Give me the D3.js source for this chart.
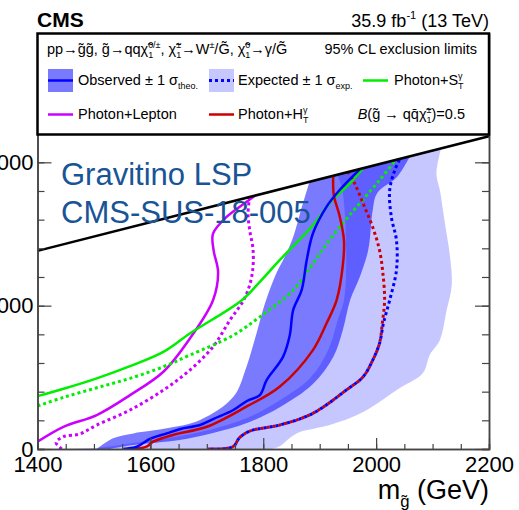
<!DOCTYPE html>
<html>
<head>
<meta charset="utf-8">
<script src="https://cdn.jsdelivr.net/npm/d3@7"></script>
<style>
body { margin: 0; background: #fff; }
svg { display: block; font-family: "Liberation Sans", Arial, Helvetica, sans-serif; }
svg text { white-space: pre; }
</style>
</head>
<body>
<div id="chart"></div>
<script>
// values, pairs of [m gluino, m NLSP] in GeV
var xTicks = [1400, 1600, 1800, 2000, 2200];
var yTicks = [0, 1000, 2000];
var diagonal = [[1400, 1382], [2200, 2182]];

var expBandDown = [[1440,0],[1511,11],[1569,42],[1652,91],[1711,140],[1771,216],[1830,342],[1883,495],[1915,691],[1932,900],[1943,1039],[1947,1388],[1940,1807],[1931,1913]];
var expBandUp = [[1815,0],[1830,21],[1847,77],[1865,118],[1918,167],[1977,258],[2042,425],[2083,530],[2095,655],[2113,760],[2125,969],[2134,1143],[2131,1340],[2122,1573],[2113,1805],[2107,1921],[2115,2097]];
var obsBandDown = [[1505,0],[1534,75],[1570,109],[1629,144],[1688,202],[1747,364],[1770,571],[1788,806],[1803,1015],[1823,1224],[1841,1364],[1853,1479],[1865,1642],[1882,1864]];
var obsBandUp = [[1528,0],[1569,28],[1652,63],[1711,112],[1771,181],[1830,293],[1888,453],[1924,642],[1941,830],[1954,1039],[1971,1200],[1986,1388],[1994,1667],[2002,1786],[2037,1897],[2060,2042]];

var observed = [[1552,0],[1576,16],[1599,70],[1629,109],[1653,140],[1688,167],[1712,210],[1747,272],[1771,335],[1794,376],[1806,481],[1835,643],[1847,794],[1853,969],[1868,1108],[1877,1317],[1888,1503],[1912,1689],[1935,1805],[1971,1951]];
var expected = [[1702,0],[1746,16],[1758,79],[1776,125],[1829,167],[1888,249],[1947,411],[1977,504],[1994,620],[2006,737],[2013,878],[2024,1038],[2036,1247],[2036,1456],[2027,1617],[2024,1805],[2033,1944],[2042,2024]];
var photonHT = [[1570,0],[1593,16],[1605,51],[1640,98],[1700,155],[1770,295],[1829,434],[1888,690],[1912,876],[1930,1038],[1941,1282],[1943,1456],[1935,1631],[1925,1770],[1924,1906]];
var photonHTexp = [[1702,0],[1746,16],[1758,79],[1776,125],[1829,167],[1888,249],[1947,411],[1977,504],[1994,620],[2006,737],[2011,878],[2015,1038],[2012,1226],[2006,1387],[1994,1547],[1977,1712],[1962,1852],[1950,1932]];
var photonST = [[1400,369],[1446,420],[1505,493],[1564,578],[1623,678],[1670,806],[1762,1038],[1794,1166],[1829,1317],[1888,1561],[1917,1712],[1953,1852],[1977,1959]];
var photonSTexp = [[1400,300],[1446,360],[1505,427],[1564,493],[1623,574],[1670,655],[1747,794],[1794,922],[1853,1108],[1888,1294],[1917,1456],[1953,1631],[2006,1875],[2035,2017]];
var photonLep = [[1400,51],[1446,155],[1505,237],[1564,376],[1623,539],[1670,771],[1711,1038],[1720,1233],[1712,1387],[1711,1503],[1735,1619],[1770,1723],[1785,1767]];
var photonLepExp = [[1443,0],[1433,45],[1446,86],[1475,105],[1505,167],[1564,272],[1623,411],[1670,551],[1711,713],[1741,899],[1767,1052],[1780,1213],[1782,1387],[1776,1526],[1773,1642],[1776,1758]];

var W = 519, H = 510;
var blue = "#0000ff", red = "#cc0000", green = "#00ee00", magenta = "#cc00ff";

var svg = d3.select("#chart").append("svg").attr("width", W).attr("height", H);

var x = d3.scaleLinear().domain([1400, 2200]).range([37.5, 489]);
var y = d3.scaleLinear().domain([0, 2900]).range([449, 33.3]);

var straight = d3.line().x(function(d){ return x(d[0]); }).y(function(d){ return y(d[1]); });
var line = d3.line().x(function(d){ return x(d[0]); }).y(function(d){ return y(d[1]); })
    .curve(d3.curveCatmullRom.alpha(0.5));

// everything in the plot stays under the kinematic line
svg.append("clipPath").attr("id", "below").append("path")
    .attr("d", straight([[1400, 0]].concat(diagonal, [[2200, 0]])) + "Z");

function band(down, up){
    return line(down) + line(up.slice().reverse()).replace("M", "L") + "Z";
}

var plot = svg.append("g").attr("clip-path", "url(#below)");
plot.append("path").attr("d", band(expBandDown, expBandUp))
    .attr("fill", blue).attr("fill-opacity", 0.22);
plot.append("path").attr("d", band(obsBandDown, obsBandUp))
    .attr("fill", blue).attr("fill-opacity", 0.52);

svg.append("path").attr("d", straight(diagonal))
    .attr("stroke", "#000").attr("stroke-width", 2.5).attr("fill", "none");

var curves = [
    {d: photonLepExp, c: magenta, dash: "3,3"},
    {d: photonLep, c: magenta},
    {d: photonSTexp, c: green, dash: "3,3"},
    {d: photonST, c: green},
    {d: photonHTexp, c: red, dash: "3,3"},
    {d: expected, c: blue, dash: "3,3", off: 3},
    {d: photonHT, c: red},
    {d: observed, c: blue}
];
curves.forEach(function(k){
    plot.append("path").attr("d", line(k.d))
        .attr("fill", "none").attr("stroke", k.c)
        .attr("stroke-width", k.dash ? 3 : 2.5)
        .attr("stroke-dasharray", k.dash || null)
        .attr("stroke-dashoffset", k.off || 0);
});

// Gravitino label
svg.append("text").attr("x", 61).attr("y", 185).attr("font-size", 31)
    .attr("fill", "#185496").text("Gravitino LSP");
svg.append("text").attr("x", 61).attr("y", 223).attr("font-size", 31)
    .attr("fill", "#185496").text("CMS-SUS-18-005");

// axes
var axisColor = "#444";
function styleAxis(g){
    g.selectAll("path").attr("stroke", axisColor).attr("stroke-width", 1.5);
    g.selectAll("line").attr("stroke", axisColor).attr("stroke-width", 1.2);
    g.selectAll("text").attr("font-size", 22).attr("fill", "#000")
        .attr("font-family", "Liberation Sans, Arial, sans-serif");
}
var minorX = x.ticks(16), minorY = y.ticks(15);

svg.append("g").attr("transform", "translate(0,449)")
    .call(d3.axisBottom(x).tickValues(minorX).tickSize(-5).tickFormat(""))
    .call(styleAxis);
svg.append("g").attr("transform", "translate(0,449)")
    .call(d3.axisBottom(x).tickValues(xTicks).tickSize(-11).tickSizeOuter(0)
        .tickPadding(7).tickFormat(d3.format("d")))
    .call(styleAxis);
svg.append("g").attr("transform", "translate(37.5,0)")
    .call(d3.axisLeft(y).tickValues(minorY).tickSize(-7).tickFormat(""))
    .call(styleAxis);
svg.append("g").attr("transform", "translate(37.5,0)")
    .call(d3.axisLeft(y).tickValues(yTicks).tickSize(-14).tickSizeOuter(0)
        .tickPadding(4).tickFormat(d3.format("d")))
    .call(styleAxis);
svg.append("g").attr("transform", "translate(489,0)")
    .call(d3.axisRight(y).tickValues(minorY).tickSize(-7).tickFormat(""))
    .call(styleAxis);
svg.append("g").attr("transform", "translate(489,0)")
    .call(d3.axisRight(y).tickValues(yTicks).tickSize(-14).tickSizeOuter(0).tickFormat(""))
    .call(styleAxis);

// text with stacked super/subscripts, placed piece by piece
function rich(parent, x0, y0, size, parts, anchor){
    var g = parent.append("g");
    var cx = 0;
    parts.forEach(function(p){
        if (typeof p === "string") p = {t: p};
        if (p.t){
            var e = g.append("text").attr("x", cx).attr("y", 0).attr("font-size", size).text(p.t);
            if (p.it) e.attr("font-style", "italic");
            cx += e.node().getComputedTextLength();
        }
        var w = 0;
        if (p.sup){
            var s = g.append("text").attr("x", cx).attr("y", -0.42 * size)
                .attr("font-size", 0.62 * size).text(p.sup);
            w = Math.max(w, s.node().getComputedTextLength());
        }
        if (p.sub){
            var b = g.append("text").attr("x", cx).attr("y", 0.3 * size)
                .attr("font-size", 0.62 * size).text(p.sub);
            w = Math.max(w, b.node().getComputedTextLength());
        }
        cx += w;
    });
    g.attr("transform", "translate(" + (anchor === "end" ? x0 - cx : x0) + "," + y0 + ")");
    return g;
}

// header
svg.append("text").attr("x", 37).attr("y", 27).attr("font-size", 21)
    .attr("font-weight", "bold").text("CMS");
rich(svg, 489, 27, 18, [{t: "35.9 fb", sup: "-1"}, " (13 TeV)"], "end");

// x title
rich(svg, 489, 499, 27, [{t: "m", sub: "g\u0303"}, " (GeV)"], "end");

// legend
var fs = 14.5;
var leg = svg.append("g");
leg.append("rect").attr("x", 37.5).attr("y", 33.5).attr("width", 451.5).attr("height", 101)
    .attr("fill", "#fff").attr("stroke", "#000").attr("stroke-width", 2.5);

rich(leg, 47, 54, fs, [
    {t: "pp\u2192g\u0303g\u0303, g\u0303\u2192qq\u03c7\u0303", sup: "0/\u00b1", sub: "1"},
    {t: ", \u03c7\u0303", sup: "\u00b1", sub: "1"},
    {t: "\u2192W", sup: "\u00b1"},
    {t: "/G\u0303, \u03c7\u0303", sup: "0", sub: "1"},
    "\u2192\u03b3/G\u0303"
]);
rich(leg, 477, 54, fs, ["95% CL exclusion limits"], "end");

// row 2
leg.append("rect").attr("x", 48).attr("y", 69).attr("width", 25).attr("height", 23)
    .attr("fill", blue).attr("fill-opacity", 0.52);
leg.append("line").attr("x1", 48).attr("x2", 73).attr("y1", 80.5).attr("y2", 80.5)
    .attr("stroke", blue).attr("stroke-width", 2.5);
rich(leg, 78, 85, fs, [{t: "Observed \u00b1 1 \u03c3", sub: "theo."}]);

leg.append("rect").attr("x", 209).attr("y", 69).attr("width", 25).attr("height", 23)
    .attr("fill", blue).attr("fill-opacity", 0.22);
leg.append("line").attr("x1", 209).attr("x2", 234).attr("y1", 80.5).attr("y2", 80.5)
    .attr("stroke", blue).attr("stroke-width", 3).attr("stroke-dasharray", "3,3");
rich(leg, 238, 85, fs, [{t: "Expected \u00b1 1 \u03c3", sub: "exp."}]);

leg.append("line").attr("x1", 363).attr("x2", 388).attr("y1", 80.5).attr("y2", 80.5)
    .attr("stroke", green).attr("stroke-width", 2.5);
rich(leg, 394, 85, fs, [{t: "Photon+S", sup: "\u03b3", sub: "T"}]);

// row 3
leg.append("line").attr("x1", 48).attr("x2", 73).attr("y1", 114.5).attr("y2", 114.5)
    .attr("stroke", magenta).attr("stroke-width", 2.5);
rich(leg, 78, 119, fs, ["Photon+Lepton"]);

leg.append("line").attr("x1", 209).attr("x2", 234).attr("y1", 114.5).attr("y2", 114.5)
    .attr("stroke", red).attr("stroke-width", 2.5);
rich(leg, 238, 119, fs, [{t: "Photon+H", sup: "\u03b3", sub: "T"}]);

rich(leg, 465, 119, fs, [{t: "B", it: true}, {t: "(g\u0303 \u2192 qq\u0304\u03c7\u0303", sup: "\u00b1", sub: "1"}, ")=0.5"], "end");
</script>
</body>
</html>
